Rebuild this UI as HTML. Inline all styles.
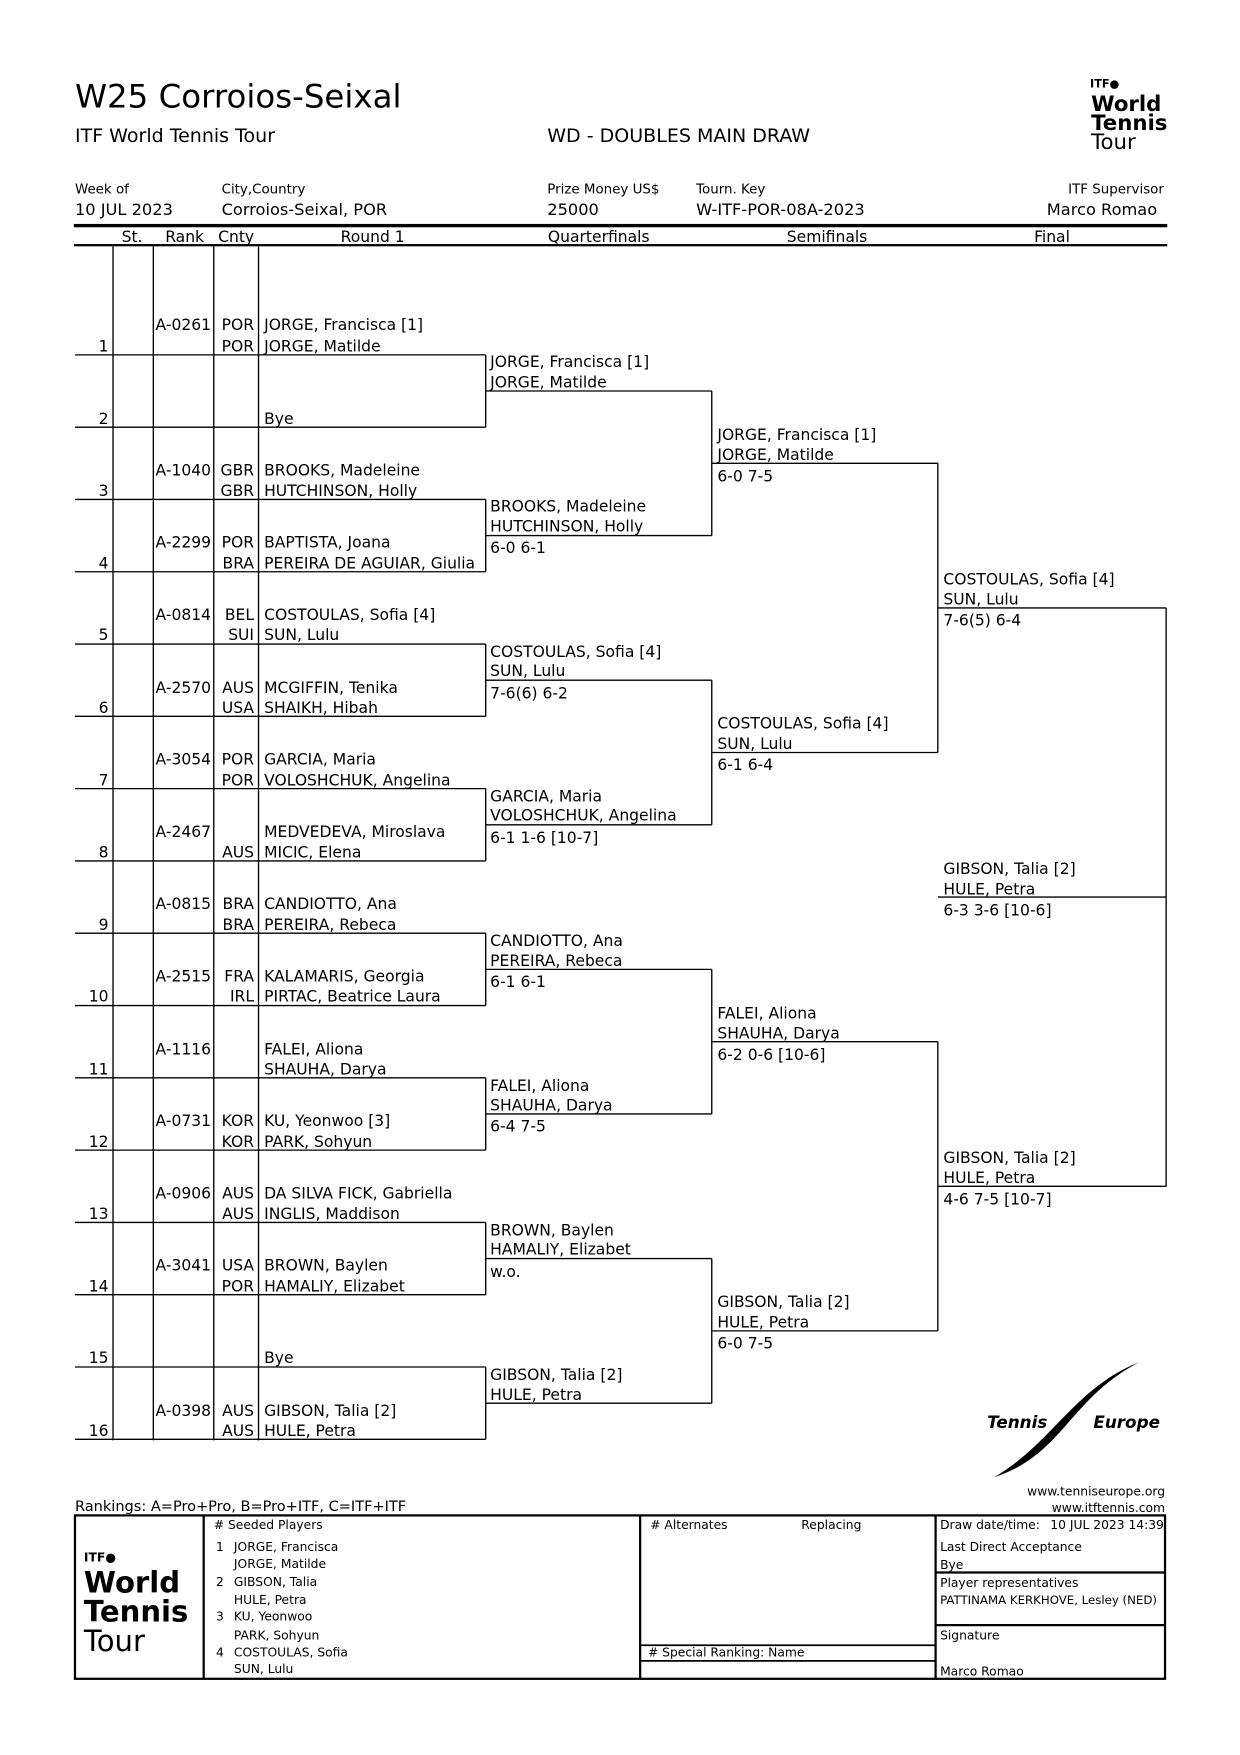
<!DOCTYPE html>
<html><head><meta charset="utf-8"><style>
html,body{margin:0;padding:0;background:#fff;}
svg{display:block;}
text{font-family:"DejaVu Sans","Liberation Sans",sans-serif;fill:#000;}
.n{font-size:13.9px;}
.s{font-size:11px;}
.h{font-size:12px;}
</style></head><body>
<svg width="1240" height="1755" viewBox="0 0 1108 1568" xmlns="http://www.w3.org/2000/svg">
<!-- header -->
<text x="67" y="96" style="font-size:29px">W25 Corroios-Seixal</text>
<text x="67" y="127" style="font-size:17px">ITF World Tennis Tour</text>
<text x="489" y="127" style="font-size:17px">WD - DOUBLES MAIN DRAW</text>
<text x="974" y="78" style="font-size:10px;font-weight:bold">ITF●</text>
<text x="975" y="99" style="font-size:19px;font-weight:bold">World</text>
<text x="975" y="116" style="font-size:19px;font-weight:bold">Tennis</text>
<text x="975" y="133" style="font-size:19px">Tour</text>
<text x="67" y="173" class="h">Week of</text>
<text x="198" y="173" class="h">City,Country</text>
<text x="489" y="173" class="h">Prize Money US$</text>
<text x="622" y="173" class="h">Tourn. Key</text>
<text x="1040" y="173" class="h" text-anchor="end">ITF Supervisor</text>
<text x="67" y="192" style="font-size:14.5px">10 JUL 2023</text>
<text x="198" y="192" style="font-size:14.5px">Corroios-Seixal, POR</text>
<text x="489" y="192" style="font-size:14.5px">25000</text>
<text x="622" y="192" style="font-size:14.5px">W-ITF-POR-08A-2023</text>
<text x="1034" y="192" style="font-size:14.5px" text-anchor="end">Marco Romao</text>
<rect x="66" y="200" width="977" height="3" fill="#000"/>
<text x="118" y="216" class="n" text-anchor="middle">St.</text>
<text x="165" y="216" class="n" text-anchor="middle">Rank</text>
<text x="211" y="216" class="n" text-anchor="middle">Cnty</text>
<text x="333" y="216" class="n" text-anchor="middle">Round 1</text>
<text x="535" y="216" class="n" text-anchor="middle">Quarterfinals</text>
<text x="739" y="216" class="n" text-anchor="middle">Semifinals</text>
<text x="940" y="216" class="n" text-anchor="middle">Final</text>
<rect x="66" y="218" width="977" height="2" fill="#000"/>
<g stroke="#000" stroke-width="1.2" fill="none">
<line x1="101" y1="220" x2="101" y2="1287"/>
<line x1="137" y1="220" x2="137" y2="1287"/>
<line x1="191" y1="220" x2="191" y2="1287"/>
<line x1="231" y1="220" x2="231" y2="1287"/>
<path d="M67 317H434M67 381.6H434M67 446.2H434M67 510.8H434M67 575.4H434M67 640H434M67 704.6H434M67 769.2H434M67 833.8H434M67 898.4H434M67 963H434M67 1027.6H434M67 1092.2H434M67 1156.8H434M67 1221.4H434M67 1286H434"/>
<path d="M434 317V381.6M434 446.2V510.8M434 575.4V640M434 704.6V769.2M434 833.8V898.4M434 963V1027.6M434 1092.2V1156.8M434 1221.4V1286"/>
<path d="M434 349.3H636M434 478.5H636M434 607.7H636M434 736.9H636M434 866.1H636M434 995.3H636M434 1124.5H636M434 1253.7H636"/>
<path d="M636 349.3V478.5M636 607.7V736.9M636 866.1V995.3M636 1124.5V1253.7"/>
<path d="M636 413.9H838M636 672.3H838M636 930.7H838M636 1189.1H838"/>
<path d="M838 413.9V672.3M838 930.7V1189.1"/>
<path d="M838 543.1H1042M838 1059.9H1042M838 801.5H1042M1042 543.1V1059.9"/>
</g>
<g class="n">
<text x="97" y="314" text-anchor="end">1</text>
<text x="97" y="379" text-anchor="end">2</text>
<text x="97" y="443" text-anchor="end">3</text>
<text x="97" y="508" text-anchor="end">4</text>
<text x="97" y="572" text-anchor="end">5</text>
<text x="97" y="637" text-anchor="end">6</text>
<text x="97" y="702" text-anchor="end">7</text>
<text x="97" y="766" text-anchor="end">8</text>
<text x="97" y="831" text-anchor="end">9</text>
<text x="97" y="895" text-anchor="end">10</text>
<text x="97" y="960" text-anchor="end">11</text>
<text x="97" y="1025" text-anchor="end">12</text>
<text x="97" y="1089" text-anchor="end">13</text>
<text x="97" y="1154" text-anchor="end">14</text>
<text x="97" y="1218" text-anchor="end">15</text>
<text x="97" y="1283" text-anchor="end">16</text>
<text x="139" y="295">A-0261</text>
<text x="139" y="425">A-1040</text>
<text x="139" y="489">A-2299</text>
<text x="139" y="554">A-0814</text>
<text x="139" y="619">A-2570</text>
<text x="139" y="683">A-3054</text>
<text x="139" y="748">A-2467</text>
<text x="139" y="812">A-0815</text>
<text x="139" y="877">A-2515</text>
<text x="139" y="942">A-1116</text>
<text x="139" y="1006">A-0731</text>
<text x="139" y="1071">A-0906</text>
<text x="139" y="1135">A-3041</text>
<text x="139" y="1265">A-0398</text>
<g text-anchor="end">
<text x="227" y="295">POR</text><text x="227" y="314">POR</text>
<text x="227" y="425">GBR</text><text x="227" y="443">GBR</text>
<text x="227" y="489">POR</text><text x="227" y="508">BRA</text>
<text x="227" y="554">BEL</text><text x="227" y="572">SUI</text>
<text x="227" y="619">AUS</text><text x="227" y="637">USA</text>
<text x="227" y="683">POR</text><text x="227" y="702">POR</text>
<text x="227" y="766">AUS</text>
<text x="227" y="812">BRA</text><text x="227" y="831">BRA</text>
<text x="227" y="877">FRA</text><text x="227" y="895">IRL</text>
<text x="227" y="1006">KOR</text><text x="227" y="1025">KOR</text>
<text x="227" y="1071">AUS</text><text x="227" y="1089">AUS</text>
<text x="227" y="1135">USA</text><text x="227" y="1154">POR</text>
<text x="227" y="1265">AUS</text><text x="227" y="1283">AUS</text>
</g>
<text x="236" y="295">JORGE, Francisca [1]</text><text x="236" y="314">JORGE, Matilde</text>
<text x="236" y="379">Bye</text>
<text x="236" y="425">BROOKS, Madeleine</text><text x="236" y="443">HUTCHINSON, Holly</text>
<text x="236" y="489">BAPTISTA, Joana</text><text x="236" y="508">PEREIRA DE AGUIAR, Giulia</text>
<text x="236" y="554">COSTOULAS, Sofia [4]</text><text x="236" y="572">SUN, Lulu</text>
<text x="236" y="619">MCGIFFIN, Tenika</text><text x="236" y="637">SHAIKH, Hibah</text>
<text x="236" y="683">GARCIA, Maria</text><text x="236" y="702">VOLOSHCHUK, Angelina</text>
<text x="236" y="748">MEDVEDEVA, Miroslava</text><text x="236" y="766">MICIC, Elena</text>
<text x="236" y="812">CANDIOTTO, Ana</text><text x="236" y="831">PEREIRA, Rebeca</text>
<text x="236" y="877">KALAMARIS, Georgia</text><text x="236" y="895">PIRTAC, Beatrice Laura</text>
<text x="236" y="942">FALEI, Aliona</text><text x="236" y="960">SHAUHA, Darya</text>
<text x="236" y="1006">KU, Yeonwoo [3]</text><text x="236" y="1025">PARK, Sohyun</text>
<text x="236" y="1071">DA SILVA FICK, Gabriella</text><text x="236" y="1089">INGLIS, Maddison</text>
<text x="236" y="1135">BROWN, Baylen</text><text x="236" y="1154">HAMALIY, Elizabet</text>
<text x="236" y="1218">Bye</text>
<text x="236" y="1265">GIBSON, Talia [2]</text><text x="236" y="1283">HULE, Petra</text>
<text x="438" y="328">JORGE, Francisca [1]</text><text x="438" y="346">JORGE, Matilde</text>
<text x="438" y="457">BROOKS, Madeleine</text><text x="438" y="475">HUTCHINSON, Holly</text><text x="438" y="494">6-0 6-1</text>
<text x="438" y="587">COSTOULAS, Sofia [4]</text><text x="438" y="604">SUN, Lulu</text><text x="438" y="624">7-6(6) 6-2</text>
<text x="438" y="716">GARCIA, Maria</text><text x="438" y="733">VOLOSHCHUK, Angelina</text><text x="438" y="753">6-1 1-6 [10-7]</text>
<text x="438" y="845">CANDIOTTO, Ana</text><text x="438" y="863">PEREIRA, Rebeca</text><text x="438" y="882">6-1 6-1</text>
<text x="438" y="975">FALEI, Aliona</text><text x="438" y="992">SHAUHA, Darya</text><text x="438" y="1011">6-4 7-5</text>
<text x="438" y="1104">BROWN, Baylen</text><text x="438" y="1121">HAMALIY, Elizabet</text><text x="438" y="1141">w.o.</text>
<text x="438" y="1233">GIBSON, Talia [2]</text><text x="438" y="1251">HULE, Petra</text>
<text x="641" y="393">JORGE, Francisca [1]</text><text x="641" y="411">JORGE, Matilde</text><text x="641" y="430">6-0 7-5</text>
<text x="641" y="651">COSTOULAS, Sofia [4]</text><text x="641" y="669">SUN, Lulu</text><text x="641" y="688">6-1 6-4</text>
<text x="641" y="910">FALEI, Aliona</text><text x="641" y="928">SHAUHA, Darya</text><text x="641" y="947">6-2 0-6 [10-6]</text>
<text x="641" y="1168">GIBSON, Talia [2]</text><text x="641" y="1186">HULE, Petra</text><text x="641" y="1205">6-0 7-5</text>
<text x="843" y="522">COSTOULAS, Sofia [4]</text><text x="843" y="540">SUN, Lulu</text><text x="843" y="559">7-6(5) 6-4</text>
<text x="843" y="1039">GIBSON, Talia [2]</text><text x="843" y="1057">HULE, Petra</text><text x="843" y="1076">4-6 7-5 [10-7]</text>
<text x="843" y="781">GIBSON, Talia [2]</text><text x="843" y="799">HULE, Petra</text><text x="843" y="818">6-3 3-6 [10-6]</text>
</g>
<path d="M1018 1217 C960 1240 940 1290 888 1320 C950 1300 955 1250 1018 1217Z" fill="#000"/>
<text x="882" y="1276" style="font-size:15px;font-weight:bold;font-style:italic">Tennis</text>
<text x="977" y="1276" style="font-size:15px;font-weight:bold;font-style:italic">Europe</text>
<text x="1041" y="1336" class="s" text-anchor="end">www.tenniseurope.org</text>
<text x="1041" y="1351" class="s" text-anchor="end">www.itftennis.com</text>
<text x="67" y="1350" style="font-size:13px">Rankings: A=Pro+Pro, B=Pro+ITF, C=ITF+ITF</text>
<g stroke="#000" fill="none">
<rect x="67" y="1354" width="974" height="146" stroke-width="2"/>
<line x1="182" y1="1354" x2="182" y2="1500" stroke-width="2"/>
<line x1="572" y1="1354" x2="572" y2="1500" stroke-width="2"/>
<line x1="836" y1="1354" x2="836" y2="1500" stroke-width="2"/>
<line x1="572" y1="1470" x2="836" y2="1470" stroke-width="1.5"/>
<line x1="572" y1="1484" x2="836" y2="1484" stroke-width="1.5"/>
<line x1="836" y1="1405" x2="1041" y2="1405" stroke-width="2"/>
<line x1="836" y1="1452" x2="1041" y2="1452" stroke-width="2"/>
</g>
<text x="75" y="1395" style="font-size:11px;font-weight:bold">ITF●</text>
<text x="75" y="1423" style="font-size:26px;font-weight:bold">World</text>
<text x="75" y="1449" style="font-size:26px;font-weight:bold">Tennis</text>
<text x="75" y="1475" style="font-size:26px">Tour</text>
<g class="s">
<text x="191" y="1366"># Seeded Players</text>
<text x="193" y="1386">1</text><text x="209" y="1386">JORGE, Francisca</text>
<text x="209" y="1401">JORGE, Matilde</text>
<text x="193" y="1417">2</text><text x="209" y="1417">GIBSON, Talia</text>
<text x="209" y="1433">HULE, Petra</text>
<text x="193" y="1448">3</text><text x="209" y="1448">KU, Yeonwoo</text>
<text x="209" y="1465">PARK, Sohyun</text>
<text x="193" y="1480">4</text><text x="209" y="1480">COSTOULAS, Sofia</text>
<text x="209" y="1495">SUN, Lulu</text>
<text x="581" y="1366"># Alternates</text>
<text x="716" y="1366">Replacing</text>
<text x="579" y="1480"># Special Ranking: Name</text>
<text x="840" y="1366">Draw date/time:</text>
<text x="1040" y="1366" text-anchor="end">10 JUL 2023 14:39</text>
<text x="840" y="1386">Last Direct Acceptance</text>
<text x="840" y="1402">Bye</text>
<text x="840" y="1418">Player representatives</text>
<text x="840" y="1433" style="font-size:10.5px">PATTINAMA KERKHOVE, Lesley (NED)</text>
<text x="840" y="1465">Signature</text>
<text x="840" y="1497">Marco Romao</text>
</g>
</svg>
</body></html>
